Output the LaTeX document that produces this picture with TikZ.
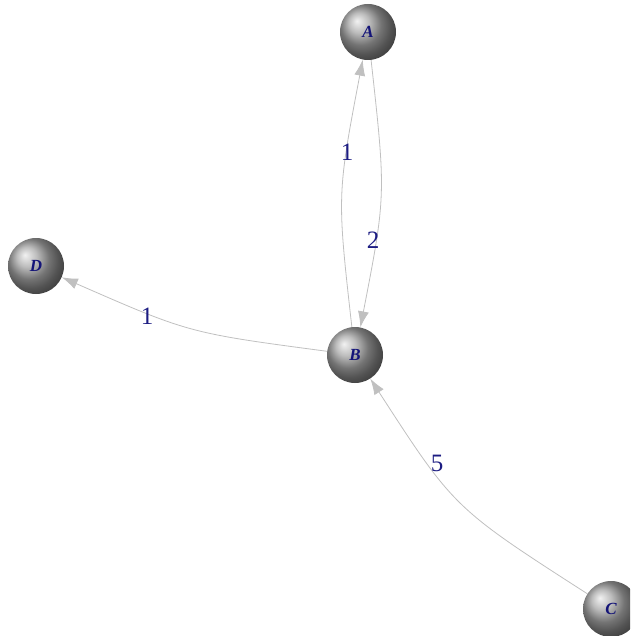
\documentclass[tikz,border=0pt]{standalone}
\usepackage{fontspec}
\setmainfont{Liberation Serif}
\usetikzlibrary{arrows.meta,shadings}
\definecolor{edgegray}{RGB}{192,192,192}
\definecolor{lblblue}{RGB}{28,28,130}
\definecolor{nodeblue}{RGB}{20,20,120}
\tikzset{
  x=1pt,y=-1pt,
  ballnode/.style={circle,minimum size=56pt,inner sep=0pt,shading=ball,ball color=gray!70,
    font=\fontsize{17}{17}\selectfont\bfseries\itshape,text=nodeblue},
  edge/.style={draw=edgegray,line width=0.8pt,-{Latex[length=16pt,width=11pt,fill=edgegray]}},
  elabel/.style={font=\fontsize{25}{25}\selectfont,text=lblblue,inner sep=0pt}
}
\begin{document}
\begin{tikzpicture}
\useasboundingbox (0,0) rectangle (630,636);
\clip (0,0) rectangle (630,636);
\node[ballnode] (A) at (368,32) {A};
\node[ballnode] (D) at (36,266) {D};
\node[ballnode] (B) at (355,355) {B};
\node[ballnode] (C) at (611,609) {C};
\draw[edge] (B) .. controls (337,195) .. (A);
\draw[edge] (A) .. controls (386,195) .. (B);
\draw[edge] (B) .. controls (189,333) .. (D);
\draw[edge] (C) .. controls (454,508) .. (B);
\node[elabel] (l1) at (347,152) {1};
\node[elabel] (l2) at (373,240) {2};
\node[elabel] (l3) at (147,316) {1};
\node[elabel] (l4) at (437,463) {5};
\end{tikzpicture}
\end{document}
